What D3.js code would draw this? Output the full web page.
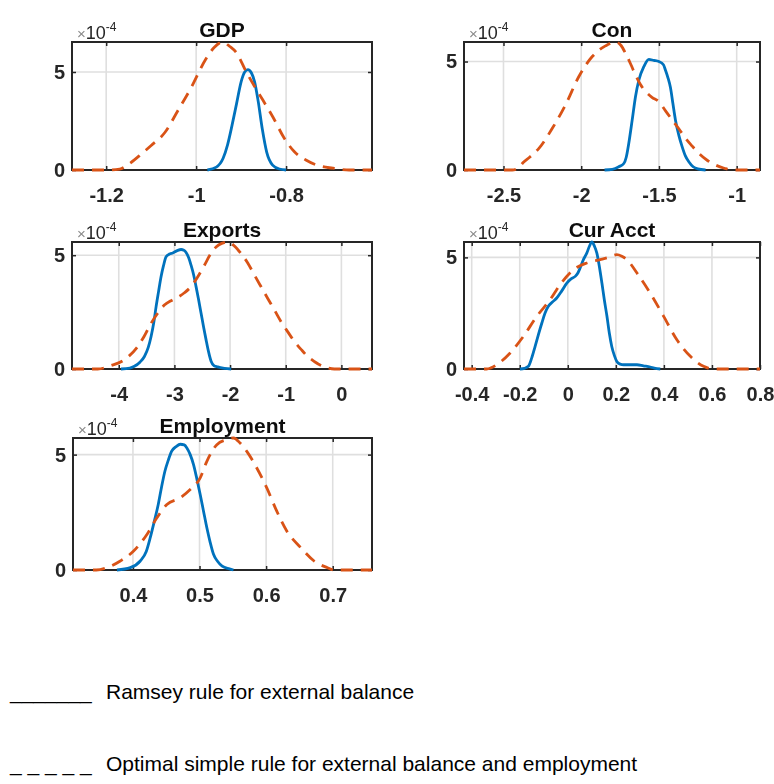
<!DOCTYPE html>
<html>
<head>
<meta charset="utf-8">
<script src="https://cdn.jsdelivr.net/npm/d3@7"></script>
<style>
  body { margin: 0; background: #fff; }
  svg { display: block; }
</style>
</head>
<body>
<svg id="chart" width="774" height="784"></svg>
<script>
// Kernel density estimates (values in units of 1e-4), [x, density] pairs.
// "ramsey": Ramsey rule for external balance (solid blue)
// "osr":    Optimal simple rule for external balance and employment (dashed orange)

const gdpRamsey = [[-0.975,0],[-0.955,0.15],[-0.94,0.6],[-0.93,1.3],[-0.92,2.3],[-0.91,3.4],[-0.90,4.5],[-0.892,5.0],[-0.885,5.12],[-0.877,4.95],[-0.87,4.5],[-0.862,3.5],[-0.853,2.1],[-0.843,0.9],[-0.83,0.25],[-0.815,0.05],[-0.80,0]];
const gdpOsr = [[-1.276,0],[-1.20,0],[-1.17,0.05],[-1.15,0.3],[-1.12,0.85],[-1.10,1.25],[-1.07,1.9],[-1.04,3.05],[-1.01,4.25],[-0.98,5.6],[-0.96,6.25],[-0.941,6.53],[-0.925,6.3],[-0.911,6.0],[-0.889,5.03],[-0.870,4.26],[-0.852,3.58],[-0.830,2.73],[-0.804,1.62],[-0.782,0.94],[-0.756,0.51],[-0.733,0.26],[-0.696,0.09],[-0.66,0],[-0.609,0]];

const conRamsey = [[-1.85,0],[-1.80,0.03],[-1.758,0.15],[-1.726,0.3],[-1.71,0.6],[-1.694,1.23],[-1.672,2.31],[-1.651,3.38],[-1.629,4.15],[-1.597,4.77],[-1.565,5.1],[-1.533,5.05],[-1.501,5.0],[-1.471,4.85],[-1.458,4.6],[-1.442,4.25],[-1.426,3.8],[-1.41,3.05],[-1.394,2.31],[-1.372,1.6],[-1.351,1.08],[-1.33,0.65],[-1.308,0.38],[-1.28,0.15],[-1.25,0.05],[-1.20,0]];
const conOsr = [[-2.754,0],[-2.444,0],[-2.40,0.12],[-2.379,0.3],[-2.33,0.6],[-2.272,1.0],[-2.186,1.92],[-2.101,3.0],[-2.015,4.31],[-1.929,5.23],[-1.844,5.72],[-1.779,5.9],[-1.745,5.75],[-1.715,5.38],[-1.680,4.85],[-1.651,4.38],[-1.620,3.95],[-1.586,3.62],[-1.545,3.35],[-1.501,3.15],[-1.46,2.75],[-1.415,2.31],[-1.372,1.9],[-1.329,1.46],[-1.286,1.1],[-1.244,0.77],[-1.19,0.45],[-1.136,0.23],[-1.08,0.08],[-1.029,0],[-0.85,0]];

const exportsRamsey = [[-3.96,0],[-3.80,0.04],[-3.719,0.12],[-3.62,0.3],[-3.539,0.55],[-3.47,0.95],[-3.419,1.43],[-3.37,2.05],[-3.329,2.74],[-3.285,3.4],[-3.240,4.05],[-3.195,4.55],[-3.150,4.93],[-3.09,5.05],[-3.030,5.10],[-2.95,5.2],[-2.880,5.25],[-2.83,5.22],[-2.790,5.12],[-2.745,4.9],[-2.701,4.56],[-2.656,4.15],[-2.611,3.62],[-2.566,3.05],[-2.521,2.45],[-2.476,1.85],[-2.431,1.28],[-2.386,0.75],[-2.341,0.34],[-2.29,0.15],[-2.222,0.09],[-2.10,0.03],[-1.98,0]];
const exportsOsr = [[-4.84,0],[-4.377,0],[-4.138,0.15],[-3.898,0.41],[-3.659,0.99],[-3.54,1.45],[-3.419,2.01],[-3.30,2.45],[-3.180,2.81],[-3.06,3.0],[-2.940,3.15],[-2.82,3.35],[-2.701,3.62],[-2.58,4.05],[-2.461,4.56],[-2.35,5.05],[-2.251,5.36],[-2.15,5.52],[-2.042,5.58],[-1.92,5.4],[-1.802,5.07],[-1.68,4.65],[-1.563,4.13],[-1.44,3.6],[-1.323,3.10],[-1.20,2.58],[-1.084,2.08],[-0.96,1.62],[-0.844,1.21],[-0.72,0.85],[-0.605,0.55],[-0.48,0.32],[-0.365,0.15],[-0.25,0.05],[-0.126,0],[0.55,0]];

const curAcctRamsey = [[-0.199,0],[-0.18,0.03],[-0.164,0.12],[-0.15,0.5],[-0.136,1.01],[-0.122,1.55],[-0.108,2.06],[-0.095,2.5],[-0.081,2.81],[-0.064,3.0],[-0.046,3.18],[-0.025,3.5],[-0.004,3.85],[0.015,4.05],[0.031,4.15],[0.042,4.3],[0.051,4.52],[0.065,4.9],[0.079,5.19],[0.09,5.5],[0.100,5.69],[0.111,5.5],[0.121,5.19],[0.132,4.55],[0.142,3.85],[0.152,3.1],[0.163,2.36],[0.173,1.6],[0.183,1.01],[0.194,0.6],[0.204,0.34],[0.218,0.22],[0.232,0.19],[0.26,0.19],[0.288,0.19],[0.315,0.14],[0.343,0.09],[0.36,0.04],[0.385,0]];
const curAcctOsr = [[-0.432,0],[-0.338,0],[-0.32,0.05],[-0.296,0.19],[-0.240,0.72],[-0.185,1.46],[-0.129,2.36],[-0.074,3.10],[-0.032,3.78],[0.024,4.45],[0.079,4.75],[0.135,4.90],[0.17,5.0],[0.204,5.12],[0.225,5.05],[0.246,4.90],[0.288,4.30],[0.343,3.40],[0.399,2.36],[0.454,1.31],[0.510,0.57],[0.565,0.12],[0.607,0],[0.80,0]];

const employmentRamsey = [[0.376,0],[0.396,0.1],[0.411,0.39],[0.42,0.8],[0.426,1.40],[0.432,2.1],[0.438,2.84],[0.443,3.6],[0.448,4.28],[0.453,4.75],[0.458,5.14],[0.465,5.35],[0.471,5.45],[0.477,5.42],[0.481,5.29],[0.486,5.0],[0.491,4.57],[0.496,3.95],[0.501,3.27],[0.506,2.55],[0.511,1.83],[0.516,1.2],[0.521,0.68],[0.527,0.38],[0.534,0.17],[0.545,0.05],[0.551,0]];
const employmentOsr = [[0.310,0],[0.345,0],[0.361,0.1],[0.381,0.39],[0.401,0.82],[0.421,1.54],[0.436,2.26],[0.451,2.84],[0.471,3.13],[0.486,3.49],[0.501,3.99],[0.511,4.71],[0.526,5.43],[0.541,5.65],[0.551,5.72],[0.561,5.5],[0.571,5.14],[0.586,4.42],[0.601,3.56],[0.616,2.55],[0.631,1.69],[0.652,0.97],[0.672,0.39],[0.692,0.1],[0.702,0],[0.759,0]];

// Axis ticks
const gdpTicks = [-1.2, -1, -0.8];
const conTicks = [-2.5, -2, -1.5, -1];
const exportsTicks = [-4, -3, -2, -1, 0];
const curAcctTicks = [-0.4, -0.2, 0, 0.2, 0.4, 0.6, 0.8];
const employmentTicks = [0.4, 0.5, 0.6, 0.7];
const densityTicks = [0, 5];

const titles = ["GDP", "Con", "Exports", "Cur Acct", "Employment"];
const legendLabels = ["Ramsey rule for external balance", "Optimal simple rule for external balance and employment"];

// Panel frames (pixel boxes of each subplot)
const frames = [
  { left: 72,  top: 42,  width: 300, height: 128 },
  { left: 464, top: 42,  width: 296, height: 128 },
  { left: 72,  top: 242, width: 300, height: 127 },
  { left: 464, top: 242, width: 296, height: 127 },
  { left: 73,  top: 438, width: 299, height: 132 }
];

const panelData = [
  { ramsey: gdpRamsey, osr: gdpOsr, ticks: gdpTicks },
  { ramsey: conRamsey, osr: conOsr, ticks: conTicks },
  { ramsey: exportsRamsey, osr: exportsOsr, ticks: exportsTicks },
  { ramsey: curAcctRamsey, osr: curAcctOsr, ticks: curAcctTicks },
  { ramsey: employmentRamsey, osr: employmentOsr, ticks: employmentTicks }
];

const BLUE = "#0072BD";
const ORANGE = "#D95319";
const INK = "#262626";
const GRID = "#dfdfdf";
const FONT = "'Liberation Sans', Arial, Helvetica, sans-serif";

const svg = d3.select("#chart");

const defs = svg.append("defs");
defs.append("filter").attr("id", "soft")
  .attr("x", "-5%").attr("y", "-5%").attr("width", "110%").attr("height", "110%")
  .append("feGaussianBlur").attr("stdDeviation", 0.6);

const plots = svg.append("g").attr("filter", "url(#soft)");

titles.forEach((title, i) => {
  const f = frames[i];
  const d = panelData[i];
  const all = d.ramsey.concat(d.osr);

  const x = d3.scaleLinear()
    .domain(d3.extent(all, p => p[0]))
    .range([0, f.width]);
  const y = d3.scaleLinear()
    .domain([0, d3.max(all, p => p[1])])
    .range([f.height, 0]);

  const g = plots.append("g").attr("transform", `translate(${f.left},${f.top})`);

  // grid
  g.append("g").selectAll("line").data(d.ticks).join("line")
    .attr("x1", v => x(v)).attr("x2", v => x(v))
    .attr("y1", 0).attr("y2", f.height)
    .attr("stroke", GRID).attr("stroke-width", 1.6);
  g.append("g").selectAll("line").data(densityTicks).join("line")
    .attr("x1", 0).attr("x2", f.width)
    .attr("y1", v => y(v)).attr("y2", v => y(v))
    .attr("stroke", GRID).attr("stroke-width", 1.6);

  // axes with inward ticks
  const xb = g.append("g").attr("transform", `translate(0,${f.height})`)
    .call(d3.axisBottom(x).tickValues(d.ticks).tickSize(-4).tickPadding(18)
      .tickFormat(v => String(v)));
  const xt = g.append("g")
    .call(d3.axisTop(x).tickValues(d.ticks).tickSize(-4).tickFormat(""));
  const yl = g.append("g")
    .call(d3.axisLeft(y).tickValues(densityTicks).tickSize(-4).tickPadding(7)
      .tickFormat(d3.format("d")));
  const yr = g.append("g").attr("transform", `translate(${f.width},0)`)
    .call(d3.axisRight(y).tickValues(densityTicks).tickSize(-4).tickFormat(""));

  [xb, xt, yl, yr].forEach(a => {
    a.select(".domain").remove();
    a.selectAll(".tick line").attr("stroke", INK).attr("stroke-width", 1.5);
    a.selectAll(".tick text")
      .attr("fill", INK)
      .style("font-family", FONT)
      .style("font-size", "20px")
      .style("font-weight", "bold");
  });

  // frame
  g.append("rect")
    .attr("width", f.width).attr("height", f.height)
    .attr("fill", "none").attr("stroke", INK).attr("stroke-width", 2);

  const line = d3.line()
    .x(p => x(p[0])).y(p => y(p[1]))
    .curve(d3.curveMonotoneX);

  g.append("path").datum(d.ramsey)
    .attr("d", line)
    .attr("fill", "none").attr("stroke", BLUE)
    .attr("stroke-width", 2.8).attr("stroke-linejoin", "round");

  g.append("path").datum(d.osr)
    .attr("d", line)
    .attr("fill", "none").attr("stroke", ORANGE)
    .attr("stroke-width", 2.8).attr("stroke-dasharray", "12,8");

  // exponent label
  const ex = g.append("text")
    .attr("x", 5).attr("y", -3)
    .style("font-family", FONT).style("font-size", "18px");
  ex.append("tspan").attr("fill", "#8a8a8a").style("font-size", "15px").text("×");
  ex.append("tspan").attr("fill", INK).text("10");
  ex.append("tspan").attr("fill", INK).attr("dy", -8)
    .style("font-size", "12px").text("-4");

  // title
  g.append("text")
    .attr("x", f.width / 2).attr("y", -5)
    .attr("text-anchor", "middle")
    .attr("fill", "#111")
    .style("font-family", FONT).style("font-size", "21px").style("font-weight", "bold")
    .text(title);
});

// legend drawn as text rows
const legendMarks = ["_______", "_ _ _ _ _"];
const legendRows = [699, 770.5];
const legend = svg.append("g")
  .style("font-family", FONT).style("font-size", "21px").attr("fill", "#000");
legendLabels.forEach((label, i) => {
  legend.append("text").attr("x", 10).attr("y", legendRows[i])
    .attr("xml:space", "preserve").style("white-space", "pre")
    .text(legendMarks[i]);
  legend.append("text").attr("x", 106).attr("y", legendRows[i]).text(label);
});
</script>
</body>
</html>
